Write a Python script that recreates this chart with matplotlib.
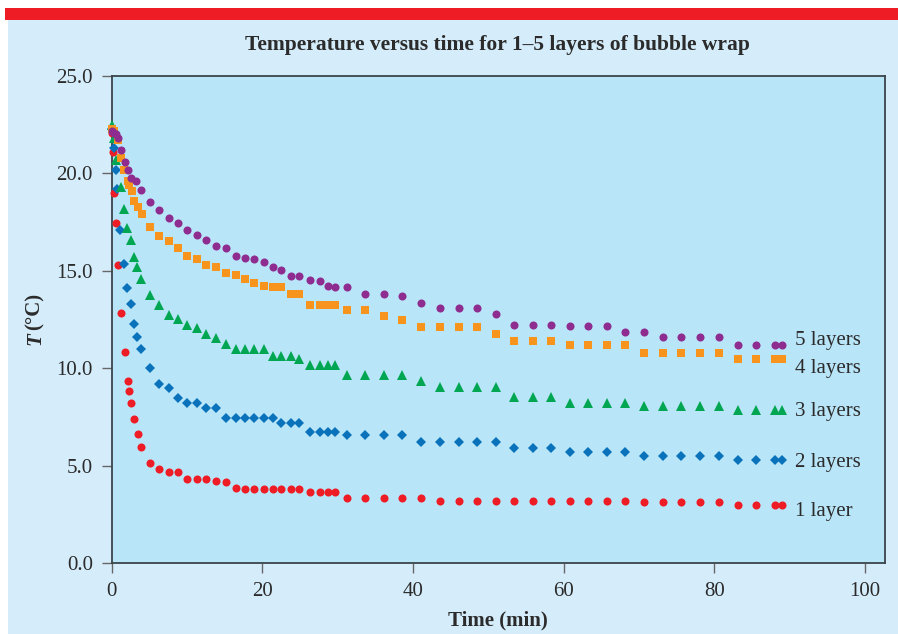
import matplotlib
matplotlib.use("Agg")
import matplotlib.pyplot as plt
from matplotlib.patches import Rectangle

# ---------------- data ----------------
time_common = [5.1, 6.3, 7.6, 8.8, 10.0, 11.3, 12.5, 13.8, 15.2, 16.5, 17.7,
               18.9, 20.2, 21.4, 22.5, 23.8, 24.8, 26.3, 27.7, 28.7, 29.7,
               31.2, 33.6, 36.1, 38.6, 41.1, 43.6, 46.1, 48.5, 51.0, 53.4,
               55.9, 58.3, 60.8, 63.2, 65.7, 68.2, 70.7, 73.2, 75.6, 78.1,
               80.6, 83.1, 85.5, 88.0, 89.0]

t1_early = [0.0, 0.2, 0.35, 0.6, 0.9, 1.3, 1.7, 2.15, 2.3, 2.5, 2.95, 3.45, 3.95]
T1_early = [22.1, 21.1, 19.0, 17.45, 15.3, 12.85, 10.85, 9.35, 8.85, 8.2, 7.4, 6.65, 5.95]
T1_common = [5.17, 4.86, 4.69, 4.69, 4.35, 4.35, 4.35, 4.21, 4.17, 3.85, 3.83,
             3.83, 3.83, 3.83, 3.83, 3.83, 3.83, 3.66, 3.66, 3.66, 3.66,
             3.35, 3.35, 3.35, 3.35, 3.35, 3.18, 3.18, 3.18, 3.18, 3.18,
             3.18, 3.18, 3.18, 3.18, 3.18, 3.18, 3.15, 3.15, 3.15, 3.15,
             3.15, 2.98, 2.98, 2.98, 2.98]

t2_early = [0.0, 0.3, 0.55, 0.7, 1.15, 1.6, 2.05, 2.5, 2.95, 3.4, 3.9]
T2_early = [22.3, 21.3, 20.2, 19.2, 17.1, 15.35, 14.1, 13.3, 12.3, 11.6, 11.0]
T2_common = [10.0, 9.22, 8.98, 8.47, 8.2, 8.2, 7.96, 7.96, 7.46, 7.46, 7.46,
             7.46, 7.46, 7.46, 7.2, 7.2, 7.2, 6.74, 6.74, 6.74, 6.74,
             6.6, 6.6, 6.6, 6.6, 6.2, 6.2, 6.2, 6.2, 6.2, 5.9,
             5.9, 5.9, 5.7, 5.7, 5.7, 5.7, 5.49, 5.49, 5.49, 5.49,
             5.49, 5.29, 5.29, 5.29, 5.29]

t3_early = [0.1, 0.3, 0.6, 1.2, 1.6, 2.05, 2.5, 2.95, 3.35, 3.85]
T3_early = [22.5, 21.8, 20.7, 19.3, 18.2, 17.2, 16.6, 15.7, 15.2, 14.6]
T3_common = [13.76, 13.24, 12.75, 12.54, 12.23, 12.08, 11.74, 11.57, 11.23, 10.98, 10.98,
             10.98, 10.98, 10.66, 10.66, 10.66, 10.47, 10.16, 10.16, 10.16, 10.16,
             9.65, 9.65, 9.65, 9.65, 9.33, 9.05, 9.05, 9.05, 9.05, 8.54,
             8.54, 8.54, 8.23, 8.23, 8.23, 8.23, 8.07, 8.07, 8.07, 8.07,
             8.07, 7.85, 7.85, 7.85, 7.85]

t4_early = [0.1, 0.35, 0.9, 1.25, 1.6, 2.1, 2.35, 2.7, 2.95, 3.5, 4.0]
T4_early = [22.3, 22.2, 21.7, 20.8, 20.2, 19.6, 19.4, 19.1, 18.6, 18.26, 17.9]
T4_common = [17.23, 16.77, 16.51, 16.2, 15.74, 15.59, 15.28, 15.18, 14.87, 14.77, 14.56,
             14.36, 14.25, 14.2, 14.2, 13.84, 13.84, 13.23, 13.23, 13.23, 13.23,
             12.97, 12.97, 12.71, 12.46, 12.1, 12.1, 12.1, 12.1, 11.74, 11.38,
             11.38, 11.38, 11.18, 11.18, 11.18, 11.18, 10.77, 10.77, 10.77, 10.77,
             10.77, 10.46, 10.46, 10.46, 10.46]

t5_early = [0.0, 0.3, 0.55, 0.9, 1.3, 1.7, 2.2, 2.6, 3.25, 3.9]
T5_early = [22.2, 22.1, 22.0, 21.8, 21.2, 20.6, 20.2, 19.75, 19.6, 19.13]
T5_common = [18.55, 18.1, 17.71, 17.45, 17.09, 16.85, 16.6, 16.26, 16.19, 15.74, 15.67,
             15.59, 15.47, 15.18, 15.06, 14.73, 14.73, 14.54, 14.48, 14.24, 14.17,
             14.2, 13.84, 13.84, 13.69, 13.35, 13.09, 13.09, 13.09, 12.77, 12.25,
             12.25, 12.25, 12.17, 12.17, 12.17, 11.86, 11.86, 11.59, 11.59, 11.59,
             11.59, 11.18, 11.18, 11.18, 11.18]

series_labels = ["1 layer", "2 layers", "3 layers", "4 layers", "5 layers"]
label_y = [2.67, 5.18, 7.8, 10.0, 11.45]
x_ticks = [0, 20, 40, 60, 80, 100]
y_ticks = [0.0, 5.0, 10.0, 15.0, 20.0, 25.0]

# ---------------- figure ----------------
W, H = 898, 634
fig = plt.figure(figsize=(W / 100, H / 100), dpi=100, facecolor="white")

panel_col = "#D5EDFA"
fig.patches.append(Rectangle((8 / W, 0), 1 - 8 / W, (H - 20) / H,
                             transform=fig.transFigure, facecolor=panel_col,
                             edgecolor="none", zorder=-10))
fig.patches.append(Rectangle((5 / W, 1 - 20 / H), 1 - 5 / W, 12 / H,
                             transform=fig.transFigure, facecolor="#EE1D25",
                             edgecolor="none", zorder=-10))

left, right, bottom, top = 111.7 / W, 885 / W, 1 - 563.3 / H, 1 - 76 / H
ax = fig.add_axes([left, bottom, right - left, top - bottom])
ax.set_zorder(2)
ax.set_facecolor("#B9E5F8")

serif = "Liberation Serif"
text_col = "#2b2b2b"

styles = [
    dict(marker="o", color="#EE1D25", ms=5.8),
    dict(marker="D", color="#0A72BA", ms=5.1),
    dict(marker="^", color="#00A651", ms=6.8),
    dict(marker="s", color="#F7941D", ms=6.0),
    dict(marker="o", color="#8E2C90", ms=5.8),
]
times = [t1_early + time_common, t2_early + time_common, t3_early + time_common,
         t4_early + time_common, t5_early + time_common]
temps = [T1_early + T1_common, T2_early + T2_common, T3_early + T3_common,
         T4_early + T4_common, T5_early + T5_common]

for t, T, st in zip(times, temps, styles):
    ax.plot(t, T, linestyle="none", marker=st["marker"], color=st["color"],
            markersize=st["ms"], markeredgewidth=0, clip_on=False, zorder=3)

for lab, ly in zip(series_labels, label_y):
    ax.text(90.7, ly, lab, ha="left", va="center", fontsize=15,
            family=serif, color=text_col)

ax.set_xlim(0, 102.65)
ax.set_ylim(0, 25)
ax.set_xticks(x_ticks)
ax.set_xticklabels([str(v) for v in x_ticks])
ax.set_yticks(y_ticks)
ax.set_yticklabels([f"{v:.1f}" for v in y_ticks])

for sp in ax.spines.values():
    sp.set_color("#3a444b")
    sp.set_linewidth(1.3)

ax.tick_params(axis="both", direction="out", length=7.5, width=1.0,
               color="#666666", labelsize=15, labelcolor=text_col, pad=6)
for lbl in ax.get_xticklabels() + ax.get_yticklabels():
    lbl.set_family(serif)

fig.text(497 / W, 1 - 45 / H, "Temperature versus time for 1\u20135 layers of bubble wrap",
         ha="center", va="center", fontsize=15.5, fontweight="bold",
         family=serif, color=text_col)

fig.text(498 / W, 1 - 620 / H, "Time (min)", ha="center", va="center",
         fontsize=15, fontweight="bold", family=serif, color=text_col)

fig.text(35 / W, 1 - 339 / H, "T", ha="center", va="center", rotation=90,
         fontsize=15, fontweight="bold", fontstyle="italic", family=serif,
         color=text_col)
fig.text(35 / W, 1 - 311 / H, "(\u00b0C)", ha="center", va="center", rotation=90,
         fontsize=15, fontweight="bold", family=serif, color=text_col)

fig.savefig("out.png", dpi=100, facecolor="white")
